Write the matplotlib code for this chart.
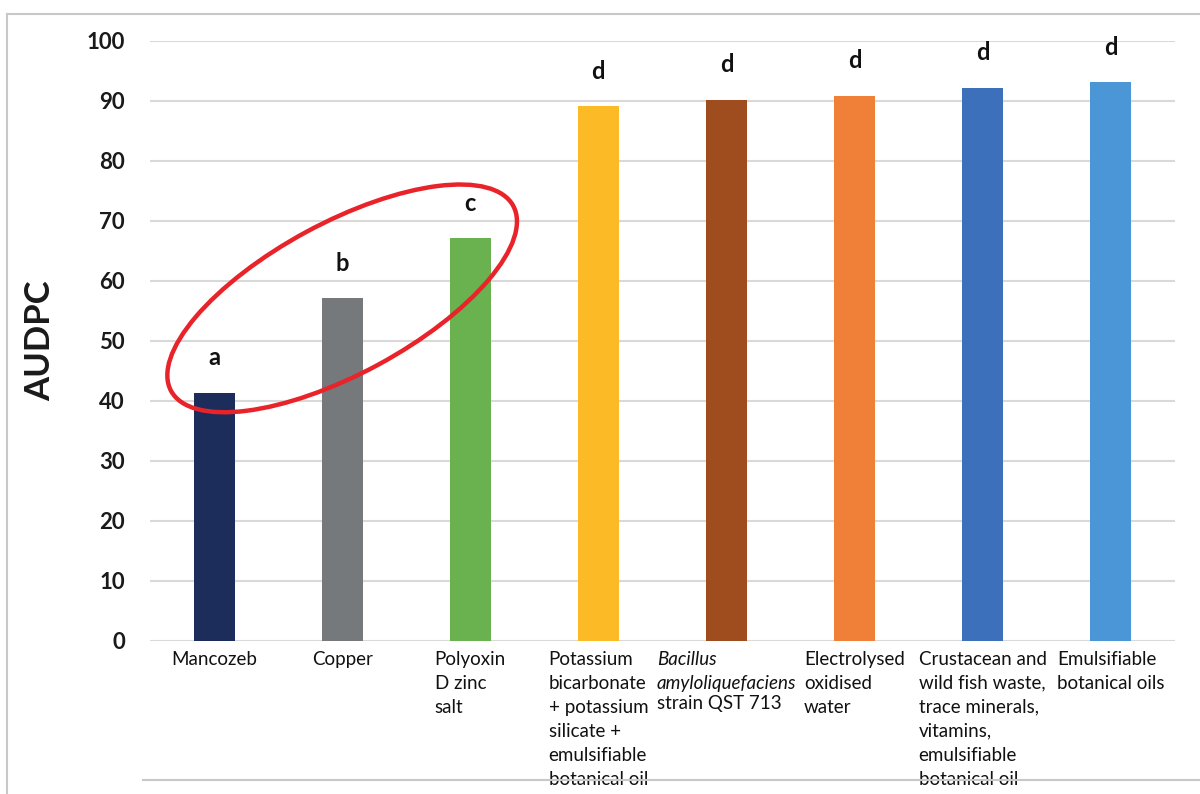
import matplotlib
matplotlib.use("Agg")
import matplotlib.pyplot as plt
import matplotlib.transforms as mtransforms
from matplotlib.patches import Ellipse
from matplotlib.lines import Line2D

treatments = [
    "Mancozeb",
    "Copper",
    "Polyoxin\nD zinc\nsalt",
    "Potassium\nbicarbonate\n+ potassium\nsilicate +\nemulsifiable\nbotanical oil",
    "Bacillus\namyloliquefaciens",
    "Electrolysed\noxidised\nwater",
    "Crustacean and\nwild fish waste,\ntrace minerals,\nvitamins,\nemulsifiable\nbotanical oil",
    "Emulsifiable\nbotanical oils",
]
audpc = [41.4, 57.1, 67.1, 89.1, 90.2, 90.9, 92.2, 93.1]
groups = ["a", "b", "c", "d", "d", "d", "d", "d"]
colors = ["#1c2c5b", "#75797c", "#6ab24f", "#fcba26",
          "#9f4d1f", "#f08037", "#3d70ba", "#4a96d6"]

fig = plt.figure(figsize=(12, 7.94), dpi=100)
ax = fig.add_axes([0.125, 0.1927, 0.854, 0.7557])

x = list(range(len(audpc)))
ax.bar(x, audpc, width=0.32, color=colors, zorder=3)

ax.set_xlim(-0.5, len(audpc) - 0.5)
ax.set_ylim(0, 100)
ax.set_yticks(range(0, 101, 10))
ax.yaxis.grid(True, color="#d9d9d9", linewidth=1.5, zorder=0)
ax.set_axisbelow(True)
for s in ax.spines.values():
    s.set_visible(False)
ax.tick_params(axis="y", length=0, pad=18)
ax.tick_params(axis="x", length=0)
ax.set_xticks([])
for lab in ax.get_yticklabels():
    lab.set_fontfamily("Lato")
    lab.set_fontweight("bold")
    lab.set_fontsize(16)
    lab.set_color("#1a1a1a")

ax.set_ylabel("AUDPC", fontfamily="Lato", fontweight="bold", fontsize=25,
              color="#1a1a1a", labelpad=22)

# significance letters
for xi, v, g in zip(x, audpc, groups):
    ax.text(xi, v + 5.8, g, ha="center", va="center", fontfamily="Lato",
            fontweight="bold", fontsize=17, color="#111111")

# category labels under the bars
lab_y = -1.6
fs = 13.5
ls = 1.5
for xi, name in zip(x, treatments):
    italic = name.startswith("Bacillus")
    t = ax.text(xi, lab_y, name, ha="center", va="top", multialignment="left",
                fontfamily="Lato", fontsize=fs, linespacing=ls,
                style="italic" if italic else "normal", color="#111111",
                clip_on=False)
    if italic:
        ax.annotate("strain QST 713", xy=(0, 0), xycoords=t,
                    xytext=(0, -2.4), textcoords="offset points",
                    ha="left", va="top", fontfamily="Lato", fontsize=fs,
                    color="#111111")

# red ellipse around the first three groups
trans = fig.dpi_scale_trans + mtransforms.ScaledTranslation(1, audpc[1], ax.transData)
ax.add_patch(Ellipse((0, 0), width=3.89, height=1.51, angle=28.4, fill=False,
                     edgecolor="#e8232a", linewidth=3.2, transform=trans,
                     clip_on=False, zorder=5))

# light frame around the figure
frame_c = "#c8c8c8"
fig.add_artist(Line2D([0.0058, 1], [0.9824, 0.9824], color=frame_c, lw=1.5))
fig.add_artist(Line2D([0.0058, 0.0058], [0, 0.9824], color=frame_c, lw=1.5))
fig.add_artist(Line2D([0.119, 1], [0.0176, 0.0176], color=frame_c, lw=1.5))

fig.savefig("out.png", dpi=100)
